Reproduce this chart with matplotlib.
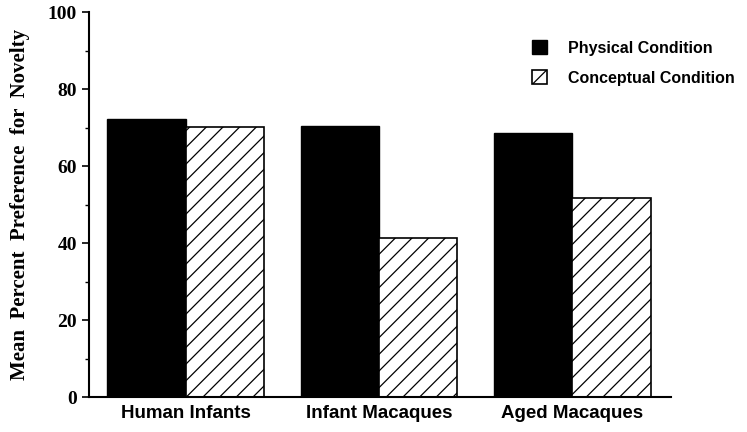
import numpy as np
import matplotlib.pyplot as plt

groups = ['Human Infants', 'Infant Macaques', 'Aged Macaques']
physical = [72.2, 70.4, 68.6]
conceptual = [70.1, 41.3, 51.7]
series_names = ['Physical Condition', 'Conceptual Condition']

plt.rcParams['hatch.linewidth'] = 0.9

fig = plt.figure(figsize=(7.47, 4.32), dpi=100)
ax = fig.add_axes([0.119, 0.081, 0.779, 0.891])

x = np.arange(len(groups))
w = 0.405
ax.bar(x - w / 2, physical, width=w, color='black', edgecolor='black', label=series_names[0])
ax.bar(x + w / 2, conceptual, width=w, color='white', edgecolor='black', hatch='//',
       linewidth=1.2, label=series_names[1])

ax.set_xlim(-0.5, 2.51)
ax.set_ylim(0, 100)
ax.spines['top'].set_visible(False)
ax.spines['right'].set_visible(False)
ax.spines['left'].set_linewidth(1.5)
ax.spines['bottom'].set_linewidth(1.5)

serif = ['Liberation Serif', 'DejaVu Serif']
sans = ['Liberation Sans', 'DejaVu Sans']

ax.set_yticks([0, 20, 40, 60, 80, 100])
ax.set_yticks(range(10, 100, 20), minor=True)
ax.set_yticklabels(['0', '20', '40', '60', '80', '100'], family=serif, fontweight='bold', fontsize=14)
ax.tick_params(axis='y', which='major', length=5, width=1.2)
ax.tick_params(axis='y', which='minor', length=3, width=1)
ax.set_xticks(x)
ax.set_xticklabels(groups, family=sans, fontweight='bold', fontsize=13.5)
ax.tick_params(axis='x', length=0, pad=6)

ax.set_ylabel('Mean  Percent  Preference  for  Novelty',
              family=serif, fontweight='bold', fontsize=15, labelpad=13)

leg = ax.legend(loc='upper right', bbox_to_anchor=(1.135, 0.965), frameon=False,
                prop={'family': sans, 'weight': 'bold', 'size': 11.5},
                handlelength=1.0, handleheight=1.0, handletextpad=1.3, labelspacing=0.9)

fig.savefig('out.png', dpi=100)
